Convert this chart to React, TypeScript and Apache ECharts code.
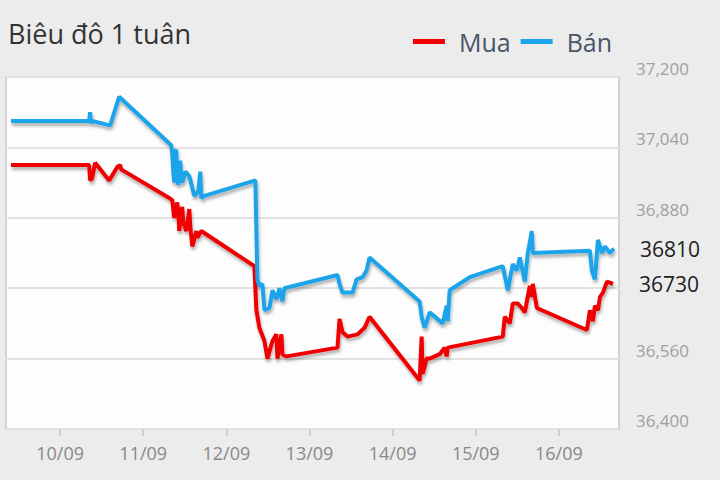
import React, { useEffect, useRef } from "react";
import * as echarts from "echarts";

const titleText = "Biêu đô 1 tuân";
const seriesNames = ["Mua", "Bán"];
const xTickDays = [10, 11, 12, 13, 14, 15, 16];
const xMonth = "09";
const yTickValues = [36400, 36560, 36720, 36880, 37040, 37200];
const yLabelValues = [36400, 36560, 36880, 37040, 37200];

const banDays = [
  9.409, 10.349, 10.361, 10.373, 10.385, 10.602, 10.71, 11.337, 11.349, 11.361,
  11.373, 11.385, 11.397, 11.409, 11.421, 11.433, 11.445, 11.457, 11.469, 11.506,
  11.554, 11.614, 11.662, 11.686, 11.698, 11.735, 12.349, 12.373, 12.397, 12.433,
  12.458, 12.518, 12.554, 12.602, 12.638, 12.674, 12.698, 13.337, 13.361, 13.397,
  13.518, 13.566, 13.638, 13.686, 13.722, 14.325, 14.349, 14.385, 14.445, 14.602,
  14.65, 14.662, 14.686, 14.722, 14.927, 15.325, 15.385, 15.445, 15.494, 15.53,
  15.59, 15.626, 15.674, 15.686, 16.373, 16.397, 16.433, 16.47, 16.518, 16.554,
  16.614, 16.663,
];
const banValues = [
  37100, 37100, 37120, 37095, 37100, 37090, 37155, 37045, 37025, 36985,
  36960, 37030, 37035, 36970, 36955, 37000, 37010, 36970, 36960, 36985,
  36975, 36930, 36940, 36985, 36925, 36930, 36965, 36740, 36725, 36730,
  36670, 36675, 36715, 36695, 36720, 36690, 36720, 36750, 36730, 36710,
  36710, 36740, 36745, 36760, 36790, 36690, 36655, 36630, 36665, 36640,
  36680, 36645, 36715, 36720, 36745, 36770, 36715, 36775, 36760, 36790,
  36735, 36800, 36850, 36800, 36805, 36760, 36740, 36830, 36800, 36815,
  36800, 36810,
];

const muaDays = [
  9.409, 10.349, 10.361, 10.385, 10.421, 10.59, 10.686, 10.722, 10.734, 11.313,
  11.349, 11.361, 11.373, 11.409, 11.421, 11.433, 11.469, 11.481, 11.518, 11.554,
  11.566, 11.59, 11.638, 11.65, 11.698, 12.337, 12.361, 12.397, 12.458, 12.494,
  12.554, 12.602, 12.614, 12.662, 12.674, 12.722, 13.337, 13.361, 13.397, 13.458,
  13.578, 13.662, 13.722, 14.325, 14.349, 14.361, 14.409, 14.445, 14.566, 14.626,
  14.65, 14.662, 15.325, 15.349, 15.409, 15.445, 15.506, 15.554, 15.59, 15.614,
  15.65, 15.674, 15.686, 15.735, 16.337, 16.373, 16.409, 16.433, 16.47, 16.494,
  16.53, 16.578, 16.651,
];
const muaValues = [
  37000, 37000, 36965, 36970, 37005, 36965, 36995, 37000, 36990, 36925,
  36920, 36900, 36880, 36915, 36895, 36850, 36905, 36870, 36850, 36900,
  36860, 36815, 36850, 36835, 36850, 36770, 36670, 36630, 36600, 36560,
  36600, 36615, 36560, 36615, 36570, 36565, 36585, 36650, 36620, 36610,
  36615, 36630, 36655, 36510, 36610, 36525, 36560, 36560, 36570, 36585,
  36565, 36585, 36610, 36655, 36640, 36685, 36685, 36675, 36665, 36690,
  36725, 36700, 36730, 36675, 36625, 36670, 36645, 36680, 36670, 36700,
  36710, 36735, 36730,
];

const FONT = "'Open Sans', 'Noto Sans', sans-serif";

export default function App() {
  const ref = useRef<HTMLDivElement>(null);
  useEffect(() => {
    if (!ref.current) return;
    const chart = echarts.init(ref.current, undefined, { renderer: "svg" });
    const zip = (xs: number[], ys: number[]) => xs.map((x, i) => [x, ys[i]]);
    const shadow = {
      shadowColor: "rgba(0,0,0,0.3)",
      shadowBlur: 3,
      shadowOffsetX: 1,
      shadowOffsetY: 3,
    };
    const endLabel = {
      show: true,
      formatter: (p: any) => String(p.value[1]),
      distance: 26,
      fontSize: 21,
      color: "#222",
      fontFamily: FONT,
    };
    chart.setOption({
      animation: false,
      backgroundColor: "#ececec",
      textStyle: { fontFamily: FONT },
      title: {
        text: titleText,
        left: 3,
        top: 15,
        textStyle: { fontFamily: FONT, fontSize: 27, fontWeight: "normal", color: "#333" },
      },
      legend: {
        data: seriesNames,
        right: 103,
        top: 24,
        icon: "rect",
        itemWidth: 32,
        itemHeight: 5,
        itemGap: 10,
        textStyle: {
          fontFamily: FONT,
          fontSize: 25,
          color: "#4a5566",
          padding: [0, 0, 0, 9],
        },
      },
      grid: {
        show: true,
        left: 6,
        right: 101,
        top: 77,
        bottom: 51,
        backgroundColor: "#fdfdfd",
        borderColor: "#d2d2d2",
        borderWidth: 2,
      },
      xAxis: {
        type: "value",
        min: 9.349,
        max: 16.723,
        axisLine: { show: false },
        splitLine: { show: false },
        axisTick: {
          show: true,
          customValues: xTickDays,
          length: 7,
          lineStyle: { color: "#b9c9da", width: 1.5 },
        },
        axisLabel: {
          customValues: xTickDays,
          formatter: (v: number) => `${v}/${xMonth}`,
          color: "#888",
          fontSize: 18,
          fontFamily: FONT,
          margin: 15,
        },
      },
      yAxis: {
        type: "value",
        position: "right",
        min: 36400,
        max: 37200,
        axisLine: { show: false },
        axisTick: { show: false, customValues: yTickValues },
        splitLine: { show: true, lineStyle: { color: "#e2e2e2", width: 2 } },
        axisLabel: {
          customValues: yLabelValues,
          formatter: (v: number) => v.toLocaleString("en-US"),
          color: "#a0a0a0",
          fontSize: 17,
          fontFamily: FONT,
          margin: 17,
          verticalAlign: "bottom",
        },
      },
      series: [
        {
          name: seriesNames[0],
          type: "line",
          data: zip(muaDays, muaValues),
          showSymbol: false,
          symbol: "none",
          color: "#f00000",
          lineStyle: { width: 4, color: "#f00000", ...shadow },
          endLabel,
        },
        {
          name: seriesNames[1],
          type: "line",
          data: zip(banDays, banValues),
          showSymbol: false,
          symbol: "none",
          color: "#1ea4ea",
          lineStyle: { width: 4, color: "#1ea4ea", ...shadow },
          endLabel,
        },
      ],
    });
    return () => chart.dispose();
  }, []);
  return (
    <div
      ref={ref}
      style={{ position: "absolute", left: 0, top: 0, width: 720, height: 480 }}
    />
  );
}
